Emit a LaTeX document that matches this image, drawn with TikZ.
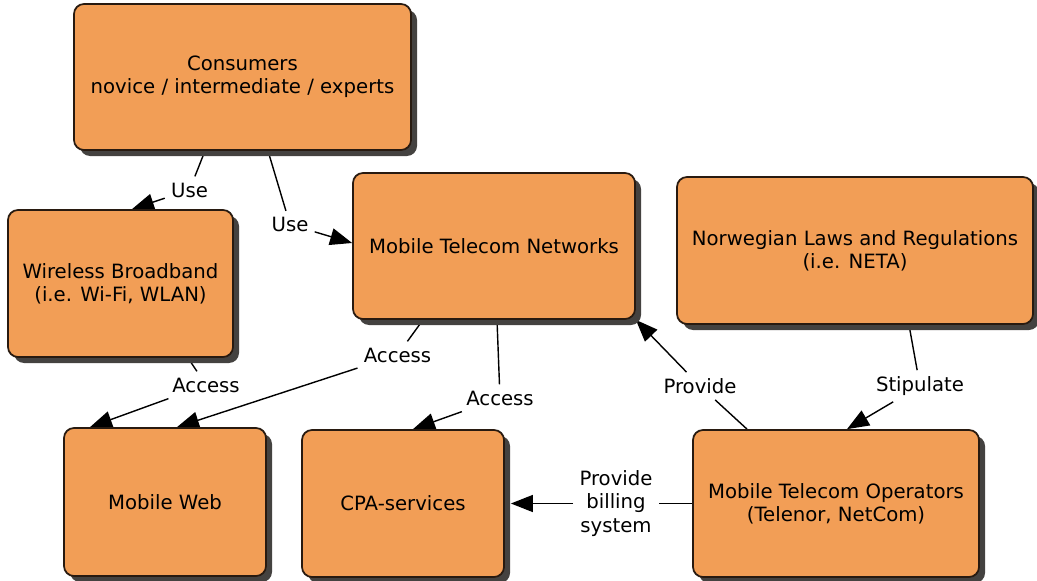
\documentclass[tikz,border=0pt]{standalone}
\usepackage{fontspec}
\setmainfont{DejaVu Sans}
\definecolor{mapfill}{RGB}{242,158,86}
\definecolor{mapline}{RGB}{40,26,16}
\definecolor{mapshadow}{RGB}{68,66,64}
\usepackage{tikz}
\usetikzlibrary{shapes,arrows.meta,shadows,backgrounds,calc}

\begin{document}
\begin{tikzpicture}[x=0.2mm, y=-0.2mm,
    every node/.style={font=\fontsize{11.2}{13.2}\selectfont, align=center},
    concept/.style={draw=mapline, line width=1pt, fill=mapfill, rounded corners=0.2cm,
        drop shadow={shadow xshift=0.12cm, shadow yshift=-0.12cm, fill=mapshadow, opacity=1}},
    linkword/.style={inner sep=3.4pt},
    link/.style={draw=black, line width=0.8pt},
    linkto/.style={link, -{Triangle[length=4.4mm, width=3.4mm]}}]
    \useasboundingbox (0,0) rectangle (1037,581);

    % concepts
    \node[concept, minimum width=6.74cm, minimum height=2.92cm] (consumers) at (242.5,77)
        {Consumers\\novice / intermediate / experts};
    \node[concept, minimum width=4.5cm, minimum height=2.94cm] (wireless) at (120.5,283.5)
        {Wireless Broadband\\(i.e. Wi-Fi, WLAN)};
    \node[concept, minimum width=5.64cm, minimum height=2.92cm] (networks) at (494,246)
        {Mobile Telecom Networks};
    \node[concept, minimum width=7.12cm, minimum height=2.94cm] (laws) at (855,250.5)
        {Norwegian Laws and Regulations\\(i.e. NETA)};
    \node[concept, minimum width=4.04cm, minimum height=2.96cm] (web) at (165,502)
        {Mobile Web};
    \node[concept, minimum width=4.04cm, minimum height=2.94cm] (cpa) at (403,503.5)
        {CPA-services};
    \node[concept, minimum width=5.72cm, minimum height=2.94cm] (operators) at (836,503.5)
        {Mobile Telecom Operators\\(Telenor, NetCom)};

    % linking words
    \node[linkword] (use1) at (189.5,190) {Use};
    \node[linkword] (use2) at (290,224.5) {Use};
    \node[linkword] (access1) at (206,385) {Access};
    \node[linkword] (access2) at (397.5,355) {Access};
    \node[linkword] (access3) at (500,398) {Access};
    \node[linkword] (provide) at (700,386) {Provide};
    \node[linkword] (stipulate) at (920,386) {Stipulate};
    \node[linkword] (billing) at (616,503.5) {Provide\\billing\\system};

    % links
    \begin{scope}[on background layer]
    \draw[link] ([xshift=-0.75cm]consumers.south) -- (use1);
    \draw[linkto] (use1) -- ([xshift=0.23cm]wireless.north);
    \draw[link] ([xshift=0.51cm]consumers.south) -- (use2);
    \draw[linkto] (use2) -- ([yshift=0.06cm]networks.west);
    \draw[link] ([xshift=1.35cm]wireless.south) -- (access1);
    \draw[linkto] (access1) -- ([xshift=-1.5cm]web.north);
    \draw[link] ([xshift=-1.42cm]networks.south) -- (access2);
    \draw[linkto] (access2) -- ([xshift=0.24cm]web.north);
    \draw[link] ([xshift=0.06cm]networks.south) -- (access3);
    \draw[linkto] (access3) -- ([xshift=0.2cm]cpa.north);
    \draw[link] ([xshift=-1.78cm]operators.north) -- (provide);
    \draw[linkto] (provide) -- (networks.south east);
    \draw[link] ([xshift=1.08cm]laws.south) -- (stipulate);
    \draw[linkto] (stipulate) -- ([xshift=0.22cm]operators.north);
    \draw[link] (operators.west) -- (billing);
    \draw[linkto] (billing) -- ([xshift=0.12cm]cpa.east);
    \end{scope}
\end{tikzpicture}
\end{document}
